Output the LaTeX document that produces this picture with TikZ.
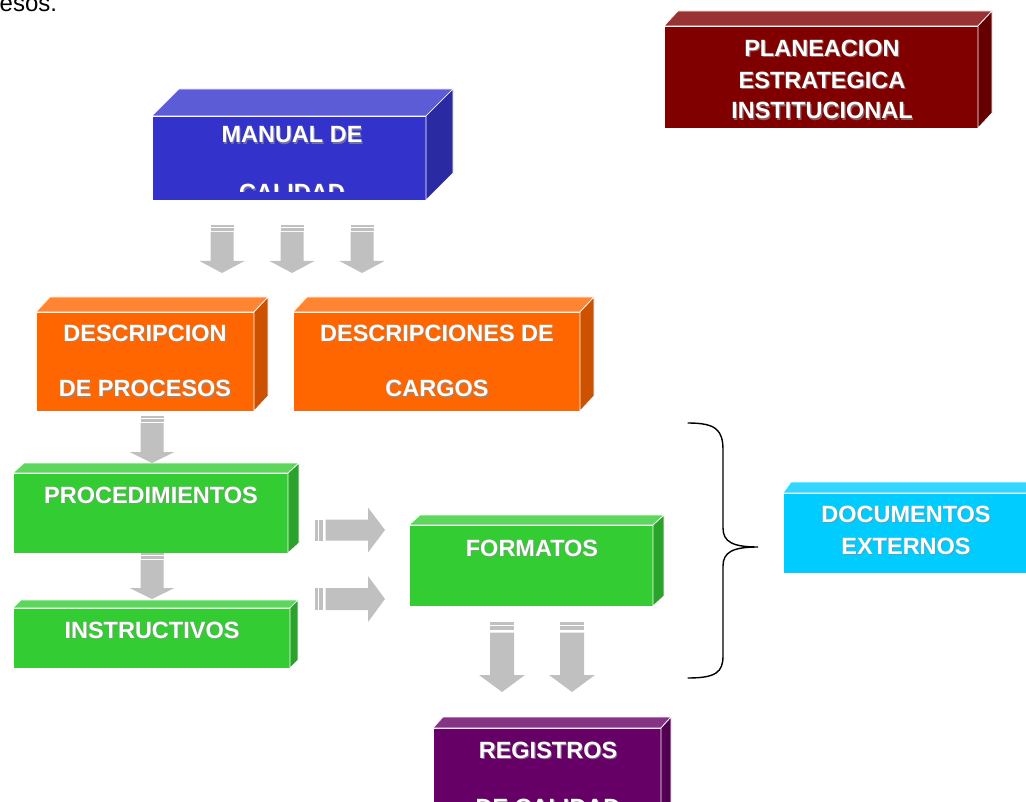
\documentclass[tikz,border=0pt]{standalone}
\usepackage{fontspec}
\setmainfont{Liberation Sans}

% face colours: front (F), top (T), side (S)
\definecolor{blueF}{HTML}{3333CC}\definecolor{blueT}{HTML}{5C5CD6}\definecolor{blueS}{HTML}{2A2AA3}
\definecolor{maroonF}{HTML}{800000}\definecolor{maroonT}{HTML}{993333}\definecolor{maroonS}{HTML}{660000}
\definecolor{orangeF}{HTML}{FF6600}\definecolor{orangeT}{HTML}{FF8533}\definecolor{orangeS}{HTML}{CC5200}
\definecolor{greenF}{HTML}{33CC33}\definecolor{greenT}{HTML}{5CD65C}\definecolor{greenS}{HTML}{29A329}
\definecolor{purpleF}{HTML}{660066}\definecolor{purpleT}{HTML}{853385}\definecolor{purpleS}{HTML}{520052}
\definecolor{cyanF}{HTML}{00CCFF}\definecolor{cyanT}{HTML}{33D6FF}\definecolor{cyanS}{HTML}{00A3CC}
\definecolor{arrowgray}{HTML}{C0C0C0}

\tikzset{
  face/.style={draw=white, line width=0.7pt, line join=round},
  lbl/.style={anchor=base, inner sep=0pt, outer sep=0pt, text=white,
              font=\bfseries\fontsize{23.5}{28}\selectfont},
  lblshadow/.style={lbl, text=black!45, opacity=0.7},
  arrowfill/.style={fill=arrowgray},
  % striped block arrow along +x: length, head length, shaft width, head width, stripe unit
  pics/garrow/.style n args={5}{code={
    \fill[arrowfill] (0,-#3/2) rectangle (#5,#3/2);
    \fill[arrowfill] (1.4*#5,-#3/2) rectangle (2.8*#5,#3/2);
    \fill[arrowfill] (3.5*#5,-#3/2) -- (#1-#2,-#3/2) -- (#1-#2,-#4/2) -- (#1,0)
        -- (#1-#2,#4/2) -- (#1-#2,#3/2) -- (3.5*#5,#3/2) -- cycle;
  }},
}

% 3D box: name, x1, y1, x2, y2 (front face), depth dx, dy, colour scheme
\newcommand\cuboid[8]{%
  \node[face, fill=#8F, anchor=north west, inner sep=0pt, outer sep=0pt,
        minimum width={#4pt-#2pt}, minimum height={#5pt-#3pt}] (#1) at (#2,#3) {};
  \path[face, fill=#8T] (#1.north west) -- ++(#6,-#7)
      -- ([shift={(#6,-#7)}]#1.north east) -- (#1.north east) -- cycle;
  \path[face, fill=#8S] (#1.north east) -- ++(#6,-#7)
      -- ([shift={(#6,-#7)}]#1.south east) -- (#1.south east) -- cycle;
}

% white caption with a soft grey shadow: name, x, baseline y, text
\newcommand\boxtext[4]{%
  \node[lblshadow] at (#2+1.2,#3+1.2) {#4};
  \node[lbl] (#1) at (#2,#3) {#4};
}

\begin{document}
\begin{tikzpicture}[x=1pt,y=-1pt]
\useasboundingbox (0,0) rectangle (1026,802);
\begin{scope}
\clip (0,0) rectangle (1026,802);

\node[anchor=base west, inner sep=0pt, font=\fontsize{24}{28}\selectfont] (prev) at (-0.5,12) {esos.};

% boxes
\cuboid{manual}{152}{116}{426}{200}{27}{27}{blue}
\cuboid{plan}{664}{26}{978}{128}{14}{15}{maroon}
\cuboid{procesos}{36}{312}{254}{411}{14}{15}{orange}
\cuboid{cargos}{293}{312}{580}{411}{14}{15}{orange}
\cuboid{proced}{13}{473}{288}{553}{11}{10}{green}
\cuboid{instr}{13}{608}{290}{668}{8}{8}{green}
\cuboid{formatos}{409}{525}{653}{606}{11}{10}{green}
\cuboid{registros}{433}{728}{661}{840}{10}{11}{purple}
\cuboid{externos}{783}{493}{1045}{573}{8}{11}{cyan}

% captions
\boxtext{manual-a}{292}{143}{MANUAL DE}
\begin{scope}
  \clip (152,116) rectangle (426,192);
  \boxtext{manual-b}{292}{201}{CALIDAD}
\end{scope}
\boxtext{plan-a}{822}{56.5}{PLANEACION}
\boxtext{plan-b}{822}{88.5}{ESTRATEGICA}
\boxtext{plan-c}{822}{119}{INSTITUCIONAL}
\boxtext{procesos-a}{145}{341.5}{DESCRIPCION}
\boxtext{procesos-b}{145}{397}{DE PROCESOS}
\boxtext{cargos-a}{437}{341.5}{DESCRIPCIONES DE}
\boxtext{cargos-b}{437}{397}{CARGOS}
\boxtext{proced-a}{151}{503.5}{PROCEDIMIENTOS}
\boxtext{instr-a}{152}{638}{INSTRUCTIVOS}
\boxtext{formatos-a}{532}{556}{FORMATOS}
\boxtext{registros-a}{548}{758}{REGISTROS}
\boxtext{registros-b}{548}{815}{DE CALIDAD}
\boxtext{externos-a}{906}{522.5}{DOCUMENTOS}
\boxtext{externos-b}{906}{554}{EXTERNOS}

% block arrows
\coordinate (m1) at (222,225);
\coordinate (m2) at (292,225);
\coordinate (m3) at (362,225);
\coordinate (p1) at (152,416);
\coordinate (q1) at (152,553);
\coordinate (r1) at (315,530);
\coordinate (r2) at (315,599);
\coordinate (f1) at (502,622);
\coordinate (f2) at (572,622);
\pic[rotate=-90] at (m1) {garrow={48}{12}{23}{45}{2}};
\pic[rotate=-90] at (m2) {garrow={48}{12}{23}{45}{2}};
\pic[rotate=-90] at (m3) {garrow={48}{12}{23}{45}{2}};
\pic[rotate=-90] at (p1) {garrow={47}{11}{23}{45}{2}};
\pic[rotate=-90] at (q1) {garrow={46}{11}{23}{45}{2}};
\pic at (r1) {garrow={70}{17}{21}{45}{3}};
\pic at (r2) {garrow={70}{17}{22}{46}{3}};
\pic[rotate=-90] at (f1) {garrow={70}{17}{24}{46}{3}};
\pic[rotate=-90] at (f2) {garrow={70}{17}{24}{46}{3}};

% curly brace
\coordinate (brtop) at (688,423);
\coordinate (brtip) at (758,547);
\coordinate (brbot) at (688,678);
\draw[line width=1.4pt, line cap=round]
  (brtop) .. controls (716,423) and (723,430) .. (723,450) -- (723,528)
  .. controls (723,542) and (733,547) .. (brtip)
  .. controls (733,547) and (723,552) .. (723,566) -- (723,656)
  .. controls (723,672) and (716,678) .. (brbot);
\end{scope}
\end{tikzpicture}
\end{document}
